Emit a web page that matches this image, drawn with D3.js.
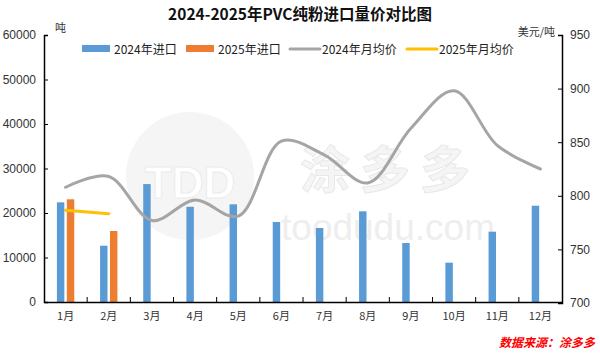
<!DOCTYPE html>
<html><head><meta charset="utf-8">
<script src="https://cdn.jsdelivr.net/npm/d3@7/dist/d3.min.js"></script>
<style>body{margin:0;background:#fff}svg{display:block}</style>
</head><body><svg id="c" width="600" height="360"></svg>
<script>
const months = ["1月","2月","3月","4月","5月","6月","7月","8月","9月","10月","11月","12月"];
const import2024 = [22400,12650,26500,21400,21950,17980,16630,20380,13260,8840,15800,21640];
const import2025 = [23080,15950,null,null,null,null,null,null,null,null,null,null];
const price2024 = [808,818,777,796,781,851,838,812,863,898,847,825];
const price2025 = [786.5,783.3];
const leftTicks = [0,10000,20000,30000,40000,50000,60000];
const rightTicks = [700,750,800,850,900,950];

const svg = d3.select("#c");
const L=44,R=562,T=35,B=302;
const x = d3.scaleBand().domain(months).range([L,R]).padding(0);
const xs = d3.scaleBand().domain(["a","b"]).range([0,x.bandwidth()]).paddingInner(0.25).paddingOuter(1.3);
const yL = d3.scaleLinear().domain([0,60000]).range([B,T]);
const yR = d3.scaleLinear().domain([700,950]).range([B+1,T]);
const cn = "'Noto Sans CJK SC','Liberation Sans',sans-serif";
const num = "'Liberation Sans',Arial,sans-serif";

// watermark
const wm = svg.append("g");
wm.append("circle").attr("cx",190).attr("cy",176).attr("r",64).attr("fill","#f5f5f5");
wm.append("text").attr("x",190).attr("y",198).attr("text-anchor","middle").attr("font-family",num).attr("font-weight","bold").attr("font-size",44).attr("fill","#fff").attr("stroke","#ececec").text("TDD");
wm.append("text").attr("x",390).attr("y",188).attr("text-anchor","middle").attr("font-family",cn).attr("font-weight","bold").attr("font-size",50).attr("letter-spacing",10).attr("fill","#f5f5f5").attr("stroke","#e8e8e8").attr("stroke-width",1).text("涂多多");
wm.append("text").attr("x",388).attr("y",240).attr("text-anchor","middle").attr("font-family",num).attr("font-size",37).attr("fill","#eeeeee").text("toodudu.com");

// bars
const g = svg.append("g");
months.forEach((m,i)=>{
  if(import2024[i]!=null) g.append("rect").attr("x",x(m)+xs("a")).attr("y",yL(import2024[i])).attr("width",xs.bandwidth()).attr("height",B-yL(import2024[i])).attr("fill","#5b9bd5");
  if(import2025[i]!=null) g.append("rect").attr("x",x(m)+xs("b")).attr("y",yL(import2025[i])).attr("width",xs.bandwidth()).attr("height",B-yL(import2025[i])).attr("fill","#ed7d31");
});

// lines
const line = d3.line().x((d,i)=>x(months[i])+x.bandwidth()/2).y(d=>yR(d)).curve(d3.curveCatmullRom.alpha(0.5));
svg.append("path").attr("d",line(price2024)).attr("fill","none").attr("stroke","#a5a5a5").attr("stroke-width",3).attr("stroke-linecap","round");
svg.append("path").attr("d",line(price2025)).attr("fill","none").attr("stroke","#ffc000").attr("stroke-width",3).attr("stroke-linecap","round");

// axes
const axL = d3.axisLeft(yL).tickValues(leftTicks).tickSize(-4).tickPadding(8).tickFormat(d3.format("d"));
const gl = svg.append("g").attr("transform",`translate(${L},0)`).call(axL);
const axR = d3.axisRight(yR).tickValues(rightTicks).tickSize(-4).tickPadding(8);
const gr = svg.append("g").attr("transform",`translate(${R},0)`).call(axR);
const axB = d3.axisBottom(x).tickSize(0).tickPadding(10);
const gb = svg.append("g").attr("transform",`translate(0,${B})`).call(axB);
[gl,gr,gb].forEach(a=>{a.select(".domain").attr("stroke","#000").attr("stroke-width",1.5);a.selectAll("line").attr("stroke","#000");a.selectAll("text").attr("font-family",num).attr("font-size",12).attr("fill","#333");});
gb.selectAll("text").attr("font-family",cn).attr("font-size",11);
// band boundary ticks
svg.append("g").selectAll("line").data(months.slice(1)).join("line")
  .attr("x1",d=>x(d)).attr("x2",d=>x(d)).attr("y1",B).attr("y2",B-5).attr("stroke","#000");

// titles
svg.append("text").attr("x",300).attr("y",20).attr("text-anchor","middle").attr("font-family",cn).attr("font-weight","bold").attr("font-size",15.5).attr("fill","#111").text("2024-2025年PVC纯粉进口量价对比图");
svg.append("text").attr("x",55).attr("y",32).attr("font-family",cn).attr("font-size",11).attr("fill","#333").text("吨");
svg.append("text").attr("x",555).attr("y",36).attr("text-anchor","end").attr("font-family",cn).attr("font-size",11).attr("fill","#333").text("美元/吨");

// legend
const lg = [
  {t:"2024年进口",c:"#5b9bd5",type:"rect",x:82},
  {t:"2025年进口",c:"#ed7d31",type:"rect",x:186},
  {t:"2024年月均价",c:"#a5a5a5",type:"line",x:290},
  {t:"2025年月均价",c:"#ffc000",type:"line",x:407}
];
lg.forEach(d=>{
  if(d.type==="rect") svg.append("rect").attr("x",d.x).attr("y",45).attr("width",28).attr("height",7).attr("fill",d.c);
  else svg.append("line").attr("x1",d.x).attr("x2",d.x+30).attr("y1",49).attr("y2",49).attr("stroke",d.c).attr("stroke-width",3).attr("stroke-linecap","round");
  svg.append("text").attr("x",d.x+32).attr("y",54).attr("font-family",cn).attr("font-size",12).attr("fill","#222").text(d.t);
});

svg.append("text").attr("x",595).attr("y",347).attr("text-anchor","end").attr("font-family",cn).attr("font-weight","bold").attr("font-style","italic").attr("font-size",12).attr("fill","#ff0000").text("数据来源：涂多多");
</script></body></html>
